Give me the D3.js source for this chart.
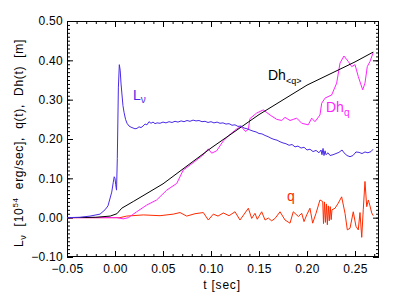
<!DOCTYPE html>
<html><head><meta charset="utf-8">
<script src="https://cdn.jsdelivr.net/npm/d3@7"></script>
<style>body{margin:0;background:#fff}svg{display:block}text{font-family:"Liberation Sans",Arial,Helvetica,sans-serif}</style>
</head><body><svg id="c" width="399" height="299"></svg>
<script>
// ---- data ----
const xTicks = [-0.05, 0.00, 0.05, 0.10, 0.15, 0.20, 0.25];
const yTicks = [-0.10, 0.00, 0.10, 0.20, 0.30, 0.40, 0.50];
const xTitle = "t [sec]";

const Lnu = [[-0.05,0.000],[-0.0365,0.001],[-0.026,0.004],[-0.0156,0.009],[-0.0104,0.02],[-0.0073,0.03],[-0.0034,0.065],[-0.0018,0.09],[-0.0008,0.104],[0.0,0.100],[0.0007,0.085],[0.0016,0.07],[0.0024,0.15],[0.0035,0.33],[0.0045,0.389],[0.0054,0.375],[0.0063,0.34],[0.0073,0.312],[0.0083,0.285],[0.0094,0.268],[0.011,0.25],[0.0125,0.24],[0.0146,0.233],[0.0167,0.23],[0.0188,0.228],[0.0208,0.226],[0.0229,0.227],[0.025,0.231],[0.0271,0.229],[0.0292,0.233],[0.0313,0.238],[0.0333,0.236],[0.0354,0.244],[0.0375,0.24],[0.0396,0.243],[0.0417,0.239],[0.0438,0.241],[0.0469,0.24],[0.05,0.243],[0.0531,0.241],[0.0563,0.244],[0.0594,0.242],[0.0625,0.245],[0.0656,0.243],[0.0688,0.246],[0.0719,0.244],[0.075,0.247],[0.0781,0.245],[0.0813,0.248],[0.0844,0.246],[0.0875,0.247],[0.0906,0.244],[0.0938,0.245],[0.0969,0.242],[0.1,0.244],[0.1031,0.241],[0.1063,0.243],[0.1094,0.24],[0.1125,0.241],[0.1156,0.238],[0.1188,0.239],[0.1219,0.235],[0.125,0.236],[0.1281,0.232],[0.1313,0.233],[0.1344,0.228],[0.1375,0.226],[0.1406,0.223],[0.1438,0.22],[0.1469,0.218],[0.15,0.214],[0.1531,0.213],[0.1563,0.209],[0.1594,0.206],[0.1625,0.202],[0.1656,0.199],[0.1688,0.197],[0.1719,0.193],[0.175,0.19],[0.1781,0.188],[0.1813,0.184],[0.1844,0.186],[0.1875,0.18],[0.1906,0.182],[0.1938,0.177],[0.1969,0.179],[0.2,0.172],[0.2031,0.174],[0.2063,0.168],[0.2094,0.171],[0.2125,0.165],[0.2146,0.172],[0.2156,0.16],[0.2167,0.176],[0.2177,0.158],[0.2188,0.17],[0.2198,0.16],[0.2219,0.165],[0.224,0.158],[0.2271,0.16],[0.2302,0.163],[0.2333,0.166],[0.2365,0.172],[0.2385,0.165],[0.2417,0.158],[0.2448,0.155],[0.2479,0.158],[0.251,0.167],[0.2542,0.166],[0.2573,0.163],[0.2604,0.167],[0.2635,0.165],[0.2667,0.168],[0.2688,0.174]];

const DhMean = [[-0.05,0],[-0.02,0.001],[-0.005,0.004],[0.002,0.01],[0.007,0.024],[0.019,0.041],[0.05,0.086],[0.1,0.177],[0.15,0.262],[0.2,0.337],[0.25,0.396],[0.269,0.421]];

const Dhq = [[-0.05,0],[0.0018,0],[0.0086,-0.003],[0.0139,0],[0.0226,0.015],[0.033,0.032],[0.0434,0.045],[0.0539,0.07],[0.0643,0.087],[0.0711,0.121],[0.0816,0.14],[0.092,0.16],[0.0972,0.175],[0.1007,0.164],[0.1059,0.17],[0.1128,0.195],[0.12,0.212],[0.127,0.226],[0.1313,0.232],[0.136,0.219],[0.1389,0.225],[0.1406,0.252],[0.1476,0.266],[0.1545,0.274],[0.1615,0.261],[0.1684,0.25],[0.1736,0.247],[0.1771,0.255],[0.1823,0.247],[0.1893,0.253],[0.1945,0.24],[0.2013,0.236],[0.2049,0.253],[0.2083,0.244],[0.2135,0.261],[0.2153,0.291],[0.2188,0.304],[0.2257,0.312],[0.2309,0.342],[0.2344,0.393],[0.2385,0.411],[0.243,0.397],[0.2466,0.384],[0.25,0.389],[0.2534,0.359],[0.258,0.325],[0.2604,0.342],[0.2628,0.384],[0.2656,0.397],[0.269,0.42]];

const q = [[-0.05,0],[0.005,0],[0.0122,0.004],[0.0295,0.007],[0.0469,0.005],[0.0607,0.009],[0.0677,0.013],[0.0747,0.004],[0.0833,0.01],[0.092,0.013],[0.0972,-0.006],[0.1024,0.009],[0.1073,0.004],[0.1128,0.012],[0.1188,0.005],[0.125,0.015],[0.1302,-0.006],[0.1389,0.024],[0.1424,-0.002],[0.1458,0.011],[0.1482,-0.004],[0.1528,0.015],[0.1563,-0.006],[0.1597,-0.001],[0.1632,-0.008],[0.1667,-0.002],[0.1719,0.015],[0.1771,-0.006],[0.1823,-0.014],[0.1857,0.015],[0.191,0.003],[0.1945,0.011],[0.1969,-0.01],[0.1997,0.007],[0.2031,0.024],[0.2059,-0.014],[0.2094,0.011],[0.2135,0.045],[0.2164,0.041],[0.2172,-0.015],[0.2182,0.04],[0.2192,-0.012],[0.2202,0.035],[0.2212,-0.018],[0.2222,0.03],[0.2232,-0.008],[0.2242,0.028],[0.2252,-0.005],[0.226,0.02],[0.2292,0.024],[0.2326,0.037],[0.2361,0.053],[0.2396,0.011],[0.242,-0.031],[0.2448,-0.027],[0.2482,0.015],[0.251,-0.022],[0.2534,-0.031],[0.2552,0.013],[0.257,-0.05],[0.2586,0.02],[0.2604,0.092],[0.2622,0.028],[0.2639,0.045],[0.2656,0.03],[0.2674,0.012],[0.269,0.005]];

// ---- drawing ----
const L = 67, R = 379, T = 21, B = 257;
const svg = d3.select("#c");
const x = d3.scaleLinear().domain([-0.05, 0.275]).range([L, R]);
const y = d3.scaleLinear().domain([-0.10, 0.50]).range([B, T]);
const fmt = d3.format(".2f");
const xMinor = d3.range(-50, 276, 10).map(d => d / 1000);
const yMinor = d3.range(-10, 51, 1).map(d => d / 100);

function styleAxis(g) {
  g.select(".domain").remove();
  g.selectAll("line").attr("stroke", "#000").attr("stroke-width", 1);
  g.selectAll("text").attr("fill", "#000").style("font-size", "12px").style("letter-spacing", "0.3px");
}
svg.append("g").attr("transform", `translate(0,${B})`).call(d3.axisBottom(x).tickValues(xMinor).tickSize(-3).tickFormat("")).call(styleAxis);
svg.append("g").attr("transform", `translate(0,${B})`).call(d3.axisBottom(x).tickValues(xTicks).tickSize(-6).tickPadding(7).tickFormat(fmt)).call(styleAxis);
svg.append("g").attr("transform", `translate(0,${T})`).call(d3.axisTop(x).tickValues(xMinor).tickSize(-3).tickFormat("")).call(styleAxis);
svg.append("g").attr("transform", `translate(0,${T})`).call(d3.axisTop(x).tickValues(xTicks).tickSize(-6).tickFormat("")).call(styleAxis);
svg.append("g").attr("transform", `translate(${L},0)`).call(d3.axisLeft(y).tickValues(yMinor).tickSize(-3).tickFormat("")).call(styleAxis);
svg.append("g").attr("transform", `translate(${L},0)`).call(d3.axisLeft(y).tickValues(yTicks).tickSize(-6).tickPadding(4).tickFormat(fmt)).call(styleAxis);
svg.append("g").attr("transform", `translate(${R},0)`).call(d3.axisRight(y).tickValues(yMinor).tickSize(-3).tickFormat("")).call(styleAxis);
svg.append("g").attr("transform", `translate(${R},0)`).call(d3.axisRight(y).tickValues(yTicks).tickSize(-6).tickFormat("")).call(styleAxis);

svg.append("rect").attr("x", L + 0.5).attr("y", T + 0.5).attr("width", R - L - 1).attr("height", B - T - 1)
  .attr("fill", "none").attr("stroke", "#000").attr("stroke-width", 1);

const line = d3.line().x(d => x(d[0])).y(d => y(d[1]));
const series = [
  {d: q, c: "#ff2a00"},
  {d: Dhq, c: "#ff22ff"},
  {d: DhMean, c: "#000000"},
  {d: Lnu, c: "#4a2ae6"}
];
svg.append("g").selectAll("path").data(series).join("path")
  .attr("d", s => line(s.d)).attr("fill", "none").attr("stroke", s => s.c).attr("stroke-width", 1);

// labels
function label(xp, yp, main, sub, color, subSize, subDy) {
  const t = svg.append("text").attr("x", xp).attr("y", yp).attr("fill", color).style("font-size", "14px");
  t.append("tspan").text(main);
  if (sub) t.append("tspan").attr("dy", subDy).style("font-size", subSize).text(sub);
}
label(133, 100, "L", "ν", "#4a2ae6", "10px", 3);
label(268, 80, "Dh", "<q>", "#000", "9px", 4);
label(326, 112, "Dh", "q", "#ff22ff", "10px", 4);
label(287, 201, "q", null, "#ff2a00");

// axis titles
svg.append("text").attr("x", 222).attr("y", 289).attr("text-anchor", "middle").style("font-size", "12px").style("letter-spacing", "0.8px").text(xTitle);
const yt = svg.append("text").attr("transform", "translate(23,143) rotate(-90)").attr("text-anchor", "middle").style("font-size", "12px").style("letter-spacing", "0.7px").style("white-space", "pre");
yt.append("tspan").text("L");
yt.append("tspan").attr("dy", 3).style("font-size", "9px").text("ν");
yt.append("tspan").attr("dy", -3).text("  [10");
yt.append("tspan").attr("dy", -5).style("font-size", "8px").text("54");
yt.append("tspan").attr("dy", 5).text("  erg/sec],  q(t),  Dh(t)  [m]");
</script></body></html>
